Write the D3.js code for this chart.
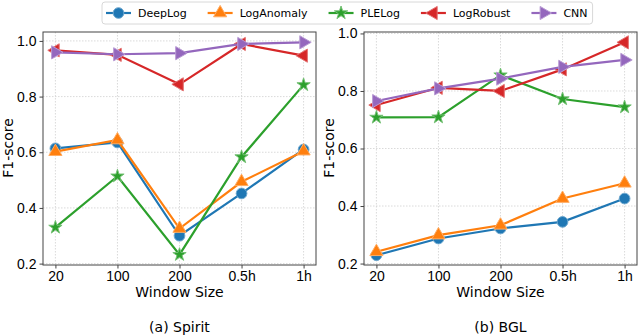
<!DOCTYPE html>
<html>
<head>
<meta charset="utf-8">
<script src="https://cdn.jsdelivr.net/npm/d3@7"></script>
<style>
  body { margin: 0; background: #fff; }
  svg { font-family: 'DejaVu Sans', sans-serif; }
  .grid line { stroke: #d0d0d0; stroke-dasharray: 1.5,1.5; stroke-width: 0.8; }
</style>
</head>
<body>
<svg width="640" height="336"></svg>
<script>
// window sizes on the x axis
const windows = ['20', '100', '200', '0.5h', '1h'];
const methods = ['DeepLog', 'LogAnomaly', 'PLELog', 'LogRobust', 'CNN'];
const colors = ['#1f77b4', '#ff7f0e', '#2ca02c', '#d62728', '#9467bd'];
const yTicks = [0.2, 0.4, 0.6, 0.8, 1.0];

// F1-score, Spirit
const spiritDeepLog    = [0.614, 0.635, 0.300, 0.452, 0.610];
const spiritLogAnomaly = [0.602, 0.644, 0.326, 0.494, 0.604];
const spiritPLELog     = [0.330, 0.514, 0.232, 0.583, 0.842];
const spiritLogRobust  = [0.966, 0.950, 0.844, 0.989, 0.947];
const spiritCNN        = [0.959, 0.952, 0.956, 0.989, 0.995];

// F1-score, BGL
const bglDeepLog    = [0.229, 0.287, 0.322, 0.345, 0.426];
const bglLogAnomaly = [0.241, 0.299, 0.333, 0.426, 0.479];
const bglPLELog     = [0.708, 0.709, 0.855, 0.772, 0.744];
const bglLogRobust  = [0.751, 0.811, 0.800, 0.875, 0.969];
const bglCNN        = [0.765, 0.809, 0.843, 0.884, 0.908];

const svg = d3.select('svg');

const symbols = [
  {type: d3.symbolCircle, size: 90, rot: 0},
  {type: d3.symbolTriangle, size: 75, rot: 0},
  {type: d3.symbolStar, size: 55, rot: 0},
  {type: d3.symbolTriangle, size: 75, rot: -90},
  {type: d3.symbolTriangle, size: 75, rot: 90}
];

function lighter(c) {
  return d3.interpolateRgb(c, '#ffffff')(0.35);
}

function drawPanel(opts) {
  const x = d3.scaleLinear().domain([-0.2, windows.length - 1 + 0.2]).range([opts.left, opts.right]);
  const y = d3.scaleLinear().domain(opts.yDomain).range([265, 32]);
  const g = svg.append('g');

  // grid
  const grid = g.append('g').attr('class', 'grid');
  grid.selectAll('.gx').data(windows).enter().append('line')
      .attr('x1', (d, i) => x(i)).attr('x2', (d, i) => x(i))
      .attr('y1', y.range()[1]).attr('y2', y.range()[0]);
  grid.selectAll('.gy').data(yTicks).enter().append('line')
      .attr('x1', opts.left).attr('x2', opts.right)
      .attr('y1', d => y(d)).attr('y2', d => y(d));

  // axes
  const xAxis = d3.axisBottom(x).tickValues(d3.range(windows.length))
      .tickFormat(i => windows[i]).tickSize(3.5).tickPadding(3);
  const yAxis = d3.axisLeft(y).tickValues(yTicks)
      .tickFormat(d3.format('.1f')).tickSize(3.5).tickPadding(3);
  g.append('g').attr('transform', 'translate(0,265)').call(xAxis)
      .call(a => a.select('.domain').remove())
      .selectAll('text').attr('font-size', 14).attr('fill', '#000');
  g.append('g').attr('transform', 'translate(' + opts.left + ',0)').call(yAxis)
      .call(a => a.select('.domain').remove())
      .selectAll('text').attr('font-size', 14).attr('fill', '#000');
  g.selectAll('.tick line').attr('stroke', '#444');

  // series
  const line = d3.line().x((d, i) => x(i)).y(d => y(d));
  opts.series.forEach((vals, k) => {
    g.append('path').datum(vals)
        .attr('d', line)
        .attr('fill', 'none')
        .attr('stroke', colors[k])
        .attr('stroke-width', 2.2);
    g.selectAll('.m' + k).data(vals).enter().append('path')
        .attr('d', d3.symbol().type(symbols[k].type).size(symbols[k].size))
        .attr('transform', (d, i) => 'translate(' + x(i) + ',' + y(d) + ') rotate(' + symbols[k].rot + ')')
        .attr('fill', colors[k])
        .attr('stroke', lighter(colors[k]))
        .attr('stroke-width', 1);
  });

  // frame
  g.append('rect')
      .attr('x', opts.left).attr('y', 32)
      .attr('width', opts.right - opts.left).attr('height', 233)
      .attr('fill', 'none').attr('stroke', '#444').attr('stroke-width', 1);

  // labels
  g.append('text')
      .attr('transform', 'translate(' + opts.yLabelX + ',148) rotate(-90)')
      .attr('text-anchor', 'middle').attr('font-size', 14)
      .text('F1-score');
  g.append('text')
      .attr('x', (opts.left + opts.right) / 2).attr('y', 297)
      .attr('text-anchor', 'middle').attr('font-size', 14)
      .text('Window Size');
  g.append('text')
      .attr('x', (opts.left + opts.right) / 2).attr('y', 332)
      .attr('text-anchor', 'middle').attr('font-size', 14)
      .text(opts.caption);
}

drawPanel({
  left: 43, right: 316, yDomain: [0.195, 1.032], yLabelX: 13,
  series: [spiritDeepLog, spiritLogAnomaly, spiritPLELog, spiritLogRobust, spiritCNN],
  caption: '(a) Spirit'
});
drawPanel({
  left: 364, right: 637, yDomain: [0.195, 1.005], yLabelX: 334,
  series: [bglDeepLog, bglLogAnomaly, bglPLELog, bglLogRobust, bglCNN],
  caption: '(b) BGL'
});

// legend
const leg = svg.append('g');
const legBox = leg.append('rect')
    .attr('x', 102).attr('y', 2).attr('height', 22).attr('rx', 3)
    .attr('fill', '#fff').attr('fill-opacity', 0.85)
    .attr('stroke', '#d8d8d8').attr('stroke-width', 1);
let lx = 106;
methods.forEach((m, k) => {
  leg.append('line')
      .attr('x1', lx).attr('x2', lx + 25).attr('y1', 13).attr('y2', 13)
      .attr('stroke', colors[k]).attr('stroke-width', 2.2);
  leg.append('path')
      .attr('d', d3.symbol().type(symbols[k].type).size(symbols[k].size))
      .attr('transform', 'translate(' + (lx + 12.5) + ',13) rotate(' + symbols[k].rot + ')')
      .attr('fill', colors[k]).attr('stroke', lighter(colors[k])).attr('stroke-width', 1);
  const t = leg.append('text')
      .attr('x', lx + 32).attr('y', 17).attr('font-size', 11)
      .text(m);
  lx += 32 + t.node().getComputedTextLength() + 21;
});
legBox.attr('width', lx - 21 + 5 - 102);
</script>
</body>
</html>
